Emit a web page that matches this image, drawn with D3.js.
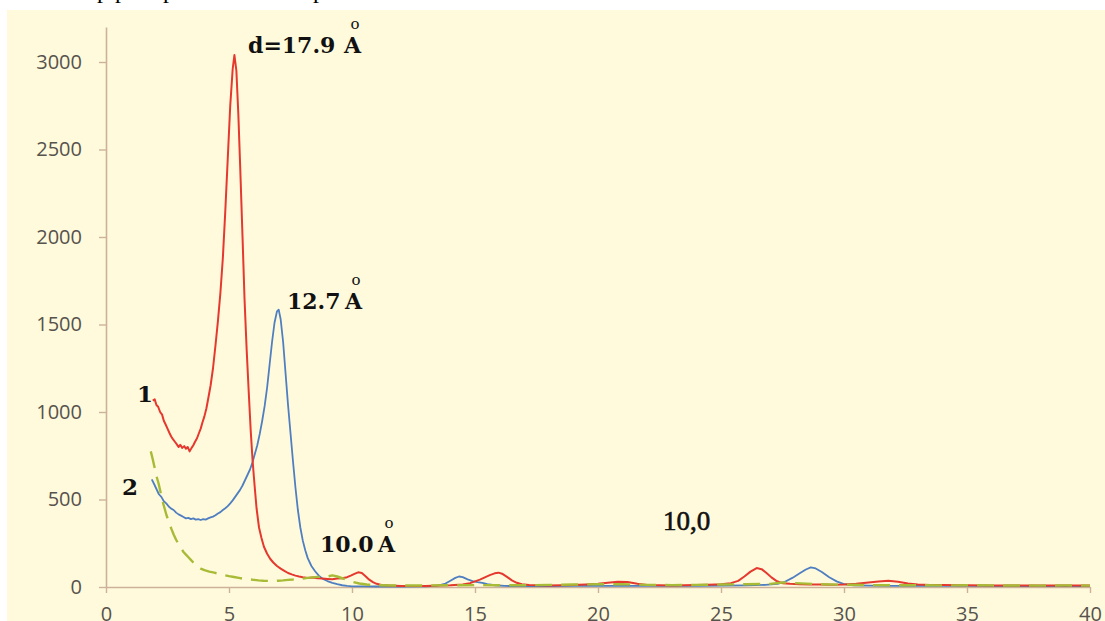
<!DOCTYPE html>
<html>
<head>
<meta charset="utf-8">
<script src="https://cdn.jsdelivr.net/npm/d3@7"></script>
<style>
  body { margin: 0; background: #fff; }
  svg { display: block; }
</style>
</head>
<body>
<div id="chart"></div>
<script>
// tick labels
const xTicks = [0, 5, 10, 15, 20, 25, 30, 35, 40];
const yTicks = [0, 500, 1000, 1500, 2000, 2500, 3000];

// curve 1 (red)
const angle1 = [1.90, 1.98, 2.05, 2.12, 2.20, 2.28, 2.35, 2.42, 2.50, 2.58, 2.65, 2.72, 2.80, 2.88, 2.95, 3.02, 3.10, 3.18, 3.25, 3.32, 3.40, 3.48, 3.55, 3.62, 3.70, 3.78, 3.85, 3.92, 4.00, 4.08, 4.16, 4.25, 4.35, 4.45, 4.55, 4.65, 4.75, 4.85, 4.95, 5.05, 5.15, 5.22, 5.30, 5.38, 5.46, 5.55, 5.63, 5.72, 5.80, 5.88, 5.96, 6.04, 6.12, 6.22, 6.32, 6.42, 6.55, 6.68, 6.80, 6.95, 7.10, 7.25, 7.40, 7.55, 7.70, 7.85, 8.00, 8.20, 8.40, 8.60, 8.80, 9.00, 9.20, 9.40, 9.60, 9.80, 9.95, 10.10, 10.25, 10.40, 10.55, 10.70, 10.85, 11.00, 11.20, 11.50, 12.00, 12.50, 13.00, 13.50, 14.00, 14.50, 14.80, 15.00, 15.20, 15.40, 15.60, 15.80, 15.95, 16.10, 16.30, 16.50, 16.70, 16.90, 17.20, 17.60, 18.00, 18.50, 19.00, 19.50, 20.00, 20.40, 20.80, 21.20, 21.60, 22.00, 22.50, 23.00, 23.50, 24.00, 24.50, 25.00, 25.40, 25.70, 25.95, 26.20, 26.45, 26.65, 26.85, 27.05, 27.25, 27.50, 27.80, 28.20, 28.60, 29.00, 29.50, 30.00, 30.50, 31.00, 31.40, 31.80, 32.20, 32.60, 33.00, 33.50, 34.00, 35.00, 36.00, 37.00, 38.00, 39.00, 40.00];
const counts1 = [1065, 1072, 1040, 1030, 1000, 985, 950, 930, 905, 880, 860, 845, 830, 815, 800, 812, 795, 805, 790, 800, 775, 795, 810, 830, 850, 880, 905, 940, 975, 1020, 1080, 1150, 1250, 1380, 1520, 1680, 1880, 2150, 2450, 2750, 2960, 3040, 2950, 2700, 2380, 2000, 1650, 1350, 1120, 900, 720, 580, 450, 340, 280, 230, 190, 160, 140, 120, 105, 92, 80, 72, 65, 60, 56, 52, 54, 50, 48, 46, 44, 48, 50, 56, 65, 75, 84, 80, 62, 42, 28, 18, 12, 8, 6, 5, 6, 8, 10, 14, 22, 32, 42, 55, 68, 78, 82, 76, 58, 38, 24, 16, 12, 10, 9, 10, 11, 14, 18, 24, 30, 28, 18, 12, 10, 9, 10, 11, 13, 16, 22, 35, 60, 88, 108, 102, 80, 55, 35, 22, 18, 15, 14, 14, 13, 14, 18, 26, 32, 36, 30, 20, 14, 12, 11, 10, 9, 9, 8, 9, 8];

// curve 2 (blue)
const angle2 = [1.86, 1.95, 2.05, 2.15, 2.25, 2.35, 2.45, 2.55, 2.65, 2.75, 2.85, 2.95, 3.05, 3.15, 3.25, 3.35, 3.45, 3.55, 3.65, 3.75, 3.85, 3.95, 4.05, 4.15, 4.25, 4.35, 4.45, 4.55, 4.65, 4.75, 4.85, 4.95, 5.05, 5.15, 5.25, 5.35, 5.45, 5.55, 5.65, 5.75, 5.85, 5.95, 6.05, 6.15, 6.25, 6.35, 6.45, 6.55, 6.65, 6.75, 6.85, 6.95, 7.02, 7.10, 7.20, 7.30, 7.40, 7.50, 7.60, 7.70, 7.80, 7.90, 8.00, 8.10, 8.20, 8.35, 8.50, 8.65, 8.80, 9.00, 9.20, 9.40, 9.60, 9.80, 10.00, 10.50, 11.00, 12.00, 13.00, 13.50, 13.80, 14.00, 14.20, 14.35, 14.50, 14.70, 14.90, 15.10, 15.30, 15.50, 15.80, 16.20, 17.00, 18.00, 19.00, 20.00, 21.00, 22.00, 23.00, 24.00, 25.00, 26.00, 26.80, 27.30, 27.60, 27.90, 28.20, 28.45, 28.65, 28.85, 29.10, 29.40, 29.70, 30.00, 30.40, 31.00, 32.00, 33.00, 35.00, 37.00, 40.00];
const counts2 = [615, 590, 560, 530, 515, 490, 478, 460, 448, 440, 425, 415, 408, 400, 392, 395, 388, 392, 385, 388, 383, 388, 385, 392, 398, 402, 410, 420, 428, 440, 450, 462, 478, 495, 515, 535, 555, 580, 610, 640, 670, 710, 760, 810, 875, 950, 1035, 1140, 1270, 1400, 1510, 1575, 1585, 1530, 1400, 1220, 1040, 880, 720, 570, 440, 340, 265, 210, 165, 120, 90, 65, 48, 34, 24, 16, 10, 6, 4, 3, 3, 3, 4, 8, 20, 36, 52, 60, 56, 44, 34, 28, 24, 16, 10, 6, 5, 5, 6, 7, 7, 6, 6, 7, 8, 9, 12, 18, 30, 52, 78, 100, 112, 106, 86, 56, 32, 16, 10, 8, 7, 6, 6, 5, 5];

// curve 3 (dashed green)
const angle3 = [1.82, 1.90, 1.98, 2.06, 2.14, 2.22, 2.30, 2.38, 2.46, 2.55, 2.65, 2.75, 2.85, 2.95, 3.05, 3.15, 3.25, 3.35, 3.45, 3.55, 3.65, 3.75, 3.85, 4.00, 4.20, 4.40, 4.60, 4.80, 5.00, 5.20, 5.40, 5.60, 5.80, 6.00, 6.20, 6.40, 6.60, 6.80, 7.00, 7.20, 7.40, 7.60, 7.80, 8.00, 8.20, 8.40, 8.60, 8.80, 9.00, 9.20, 9.40, 9.60, 9.80, 10.00, 10.30, 10.60, 11.00, 12.00, 13.00, 14.00, 15.00, 16.00, 17.00, 18.00, 19.00, 20.00, 21.00, 22.00, 23.00, 24.00, 25.00, 26.00, 27.00, 27.50, 28.00, 29.00, 30.00, 31.00, 32.00, 33.00, 34.00, 35.00, 36.00, 37.00, 38.00, 39.00, 40.00];
const counts3 = [775, 730, 680, 630, 590, 540, 490, 450, 410, 375, 335, 300, 270, 245, 222, 200, 185, 170, 155, 140, 126, 114, 105, 96, 88, 82, 75, 68, 62, 57, 52, 47, 44, 41, 38, 36, 35, 34, 36, 38, 41, 43, 46, 48, 52, 55, 58, 57, 60, 66, 60, 50, 40, 30, 20, 14, 10, 8, 9, 10, 11, 10, 10, 12, 14, 16, 16, 12, 11, 12, 14, 16, 18, 26, 22, 16, 13, 11, 10, 10, 9, 10, 9, 9, 8, 9, 8];

const width = 1105, height = 621;
const axisColor = '#cdb299';
const labelColor = '#56524c';

const svg = d3.select('#chart')
    .append('svg')
    .attr('width', width)
    .attr('height', height);

// cut-off text line from the page above the figure
svg.selectAll('text.clip')
    .data([97, 115, 163, 313])
    .enter()
    .append('text')
    .attr('class', 'clip')
    .attr('x', d => d)
    .attr('y', -2)
    .style('font-family', 'Liberation Serif')
    .style('font-size', '24px')
    .style('fill', '#000')
    .text('р');

svg.append('rect')
    .attr('x', 7)
    .attr('y', 10)
    .attr('width', width - 7)
    .attr('height', height - 10)
    .attr('fill', '#fffadc');

const x = d3.scaleLinear().domain([0, 40]).range([106, 1090]);
const y = d3.scaleLinear().domain([0, 3200]).range([587, 27]);

// Y axis
const yAxis = d3.axisLeft(y)
    .tickValues(yTicks)
    .tickFormat(d3.format('d'))
    .tickSize(7)
    .tickPadding(17)
    .tickSizeOuter(0);
const gy = svg.append('g')
    .attr('transform', 'translate(106,0)')
    .call(yAxis);

// X axis
const xAxis = d3.axisBottom(x)
    .tickValues(xTicks)
    .tickFormat(d3.format('d'))
    .tickSize(6)
    .tickPadding(14)
    .tickSizeOuter(0);
const gx = svg.append('g')
    .attr('transform', 'translate(0,587)')
    .call(xAxis);

[gx, gy].forEach(g => {
    g.select('.domain').attr('stroke', axisColor).attr('stroke-width', 1.6);
    g.selectAll('.tick line').attr('stroke', axisColor).attr('stroke-width', 1.4);
    g.selectAll('.tick text')
        .style('font-family', 'Open Sans')
        .style('font-size', '20px')
        .style('fill', labelColor);
});

// the traces
const line = d3.line()
    .curve(d3.curveLinear)
    .x(d => x(d[0]))
    .y(d => y(d[1]));

const series = [
    { a: angle2, c: counts2, color: '#4f7fc1', w: 1.8, dash: null },
    { a: angle1, c: counts1, color: '#e5382e', w: 2, dash: null },
    { a: angle3, c: counts3, color: '#a8bb36', w: 2.4, dash: '17,9' }
];

series.forEach(s => {
    const pts = s.a.map((v, i) => [v, s.c[i]]);
    svg.append('path')
        .datum(pts)
        .attr('fill', 'none')
        .attr('stroke', s.color)
        .attr('stroke-width', s.w)
        .attr('stroke-linejoin', 'round')
        .attr('stroke-dasharray', s.dash)
        .attr('d', line);
});

// annotations
const serifBold = g => g
    .style('font-family', 'DejaVu Serif')
    .style('font-weight', 'bold')
    .style('fill', '#111');

function angstrom(xA, base) {
    svg.append('text').attr('x', xA).attr('y', base)
        .call(serifBold).style('font-size', '22px').text('A');
    svg.append('text').attr('x', xA + 11).attr('y', base - 24)
        .attr('text-anchor', 'middle')
        .style('font-family', 'DejaVu Serif')
        .style('font-size', '15px')
        .style('fill', '#111')
        .text('o');
}

svg.append('text').attr('x', 248).attr('y', 53)
    .call(serifBold).style('font-size', '22px').text('d=17.9');
angstrom(344, 53);

svg.append('text').attr('x', 287).attr('y', 309)
    .call(serifBold).style('font-size', '22px').text('12.7');
angstrom(345, 309);

svg.append('text').attr('x', 320).attr('y', 552)
    .call(serifBold).style('font-size', '22px').text('10.0');
angstrom(378, 552);

svg.append('text').attr('x', 663).attr('y', 530)
    .style('font-family', 'Liberation Serif')
    .style('font-size', '27px')
    .style('fill', '#111')
    .style('stroke', '#111')
    .style('stroke-width', 0.6)
    .text('10,0');

svg.append('text').attr('x', 137).attr('y', 402)
    .call(serifBold).style('font-size', '23px').text('1');
svg.append('text').attr('x', 122).attr('y', 495)
    .call(serifBold).style('font-size', '23px').text('2');
</script>
</body>
</html>
